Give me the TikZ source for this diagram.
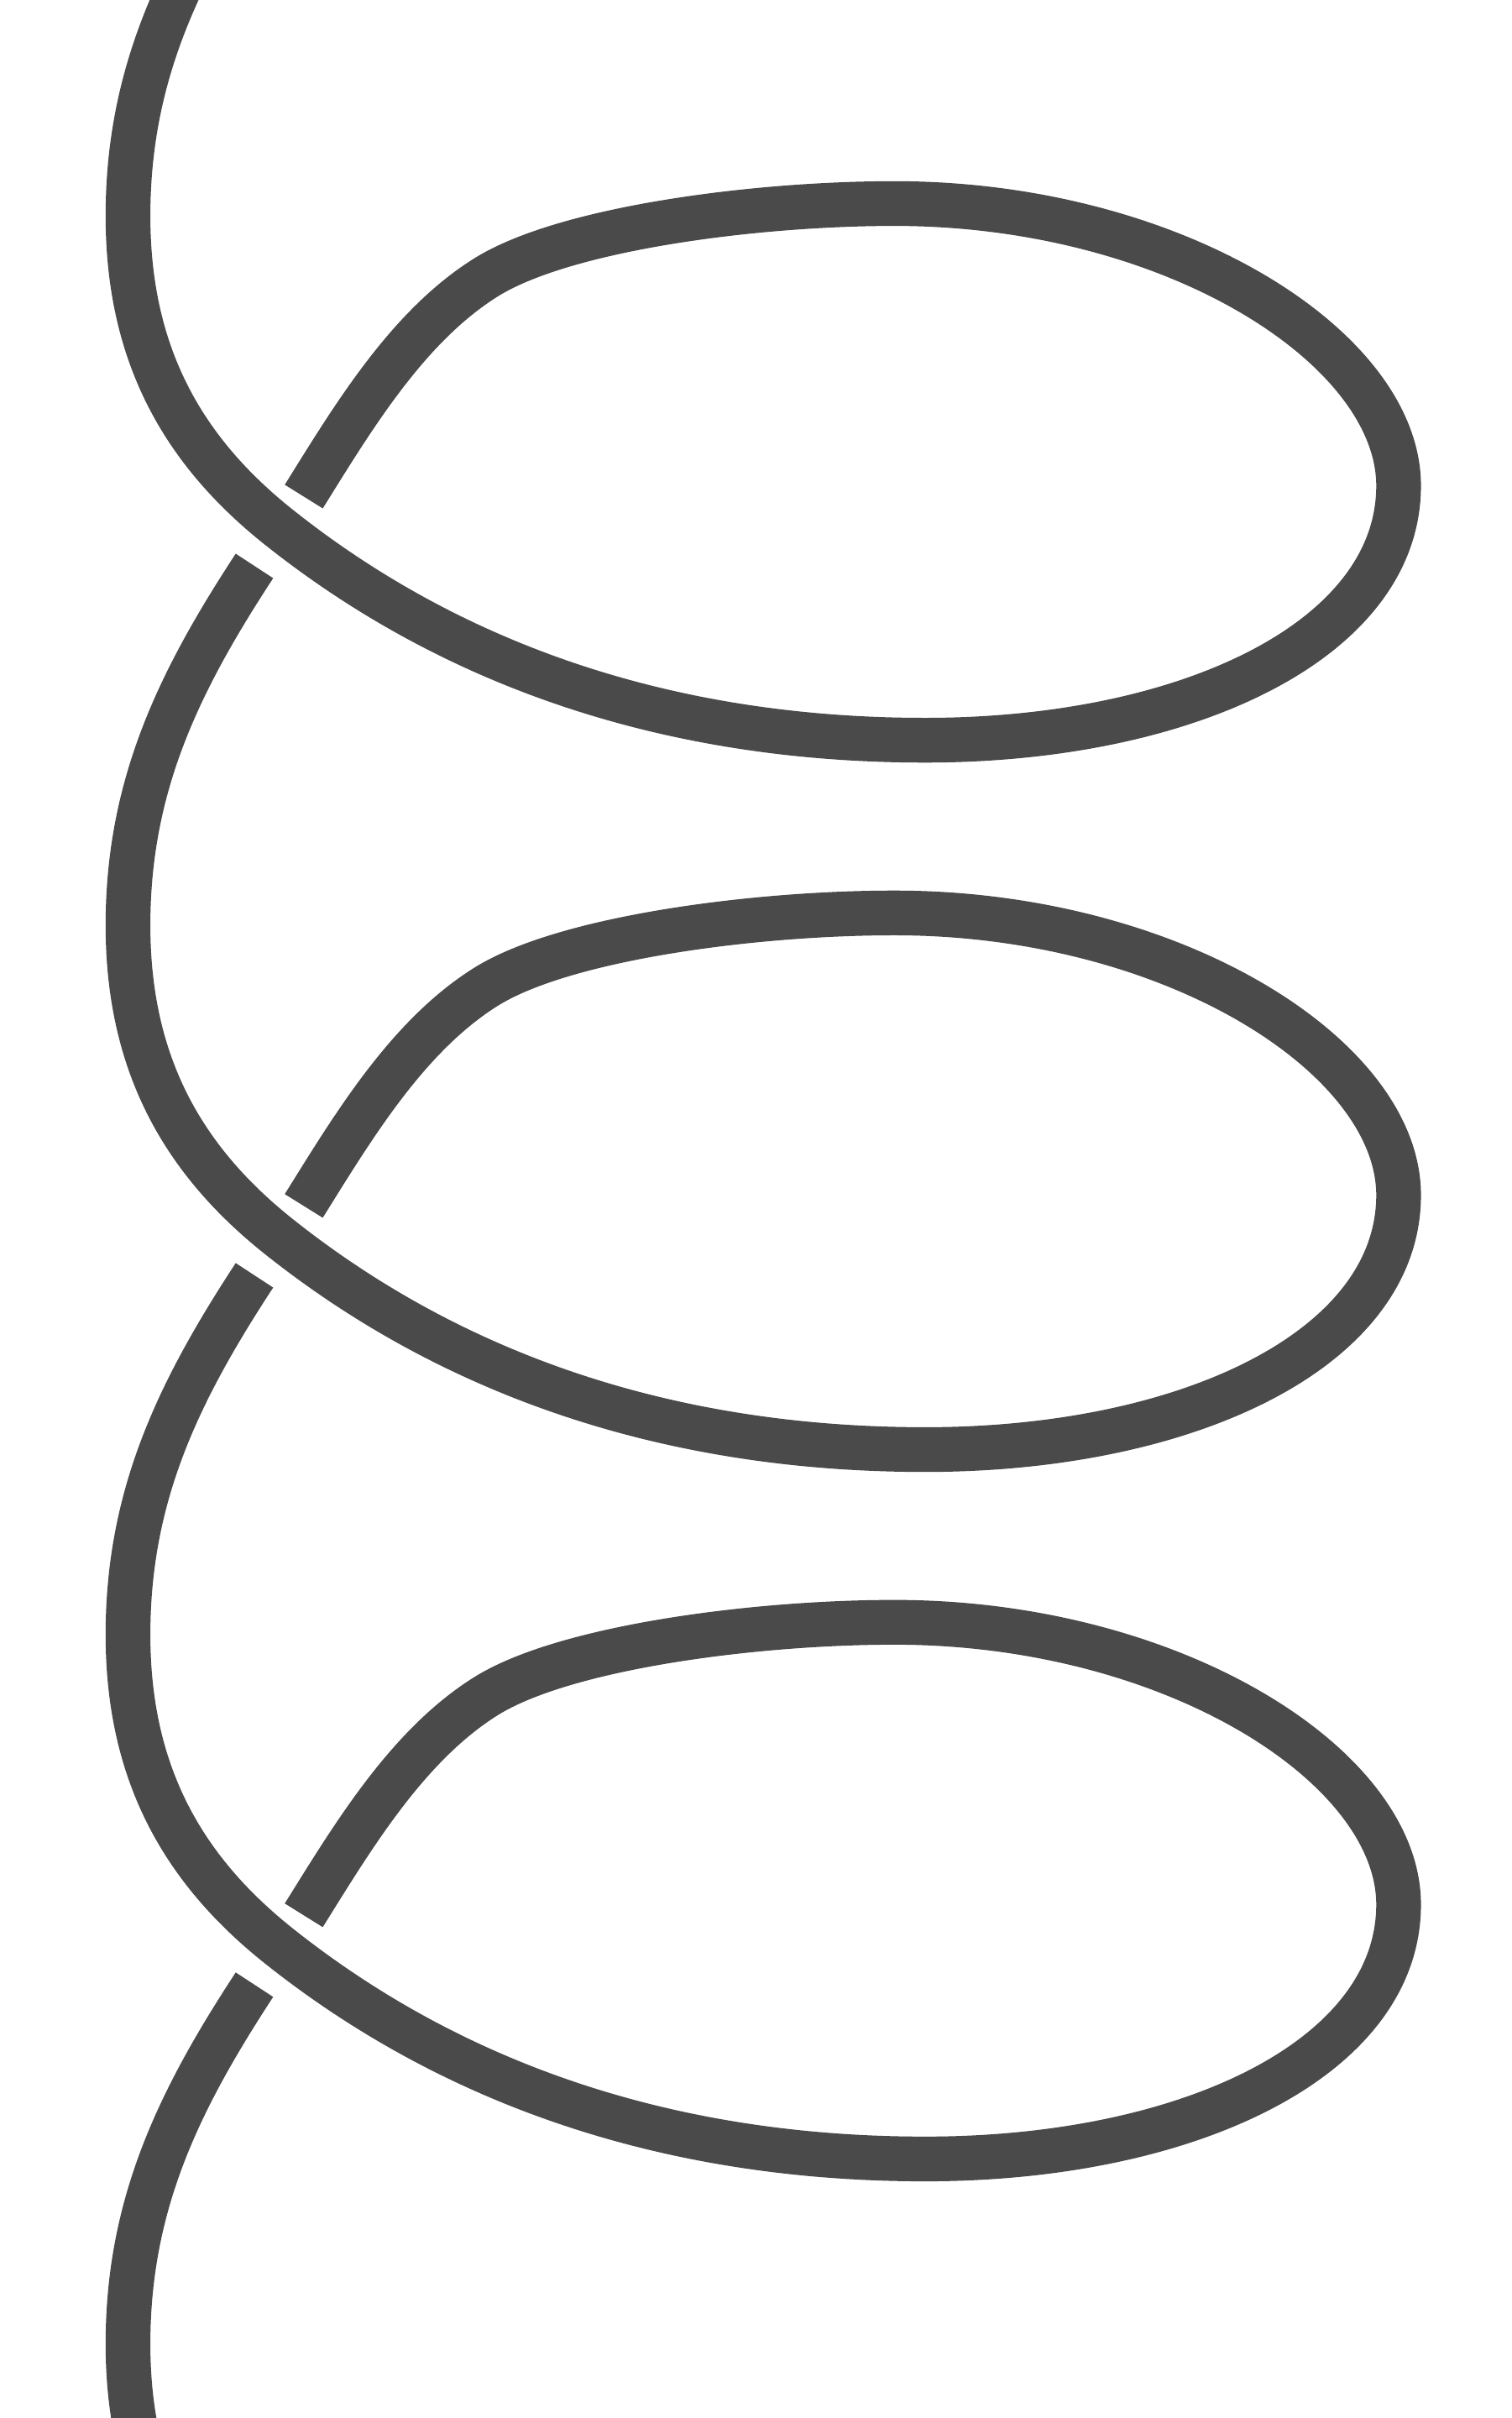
\documentclass[tikz,border=0pt]{standalone}
\usepackage{tikz}
\definecolor{coilgray}{RGB}{74, 74, 74}

\begin{document}
\begin{tikzpicture}[
  x=1pt, y=-1pt,
  coil/.style={draw=coilgray, line width=29pt, line cap=butt, line join=round},
]
  \useasboundingbox (0,0) rectangle (980,1568);
  \clip (0,0) rectangle (980,1568);

  % one turn per pass; each turn ends short of the crossing, so the wire seems to pass behind
  \foreach \k in {0,1,2} {
    \begin{scope}[shift={(0,\k*460)}]
      \draw[coil] (165,-93) .. controls (115.5,-17.4) and (83,50) .. (83,140)
        .. controls (83,230) and (118.6,292.4) .. (181,342)
        .. controls (298,435) and (440,480) .. (600,480)
        .. controls (770,480) and (907,415) .. (907,315)
        .. controls (907,225) and (760,132) .. (580,132)
        .. controls (490,132) and (366,148) .. (315,180)
        .. controls (264,212) and (228.8,271) .. (197,322);
    \end{scope}
  }

  % last strand runs off the bottom
  \begin{scope}[shift={(0,1380)}]
    \draw[coil] (165,-93) .. controls (115.5,-17.4) and (83,50) .. (83,140)
      .. controls (83,230) and (118.6,292.4) .. (181,342);
  \end{scope}
\end{tikzpicture}
\end{document}
